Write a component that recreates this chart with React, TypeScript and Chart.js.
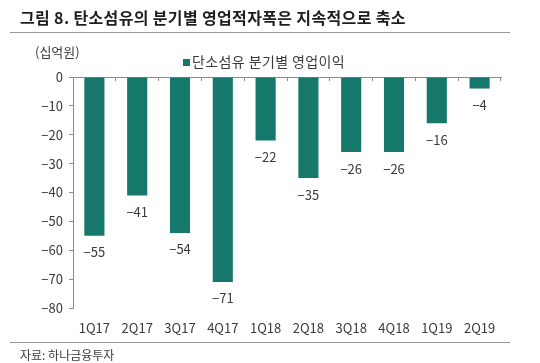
import React, { useEffect, useRef } from "react";
import { Chart, registerables } from "chart.js";

Chart.register(...registerables);

const categories = ["1Q17", "2Q17", "3Q17", "4Q17", "1Q18", "2Q18", "3Q18", "4Q18", "1Q19", "2Q19"];
const operatingProfit = [-55, -41, -54, -71, -22, -35, -26, -26, -16, -4];
const seriesName = "단소섬유 분기별 영업이익";
const titleText = "그림 8. 탄소섬유의 분기별 영업적자폭은 지속적으로 축소";
const unitText = "(십억원)";
const sourceText = "자료: 하나금융투자";

const FONT = "'Noto Sans CJK KR', 'Noto Sans', sans-serif";
const TEAL = "#16786b";
const AXIS = "#8c8c8c";
const TEXT = "#3a3a3a";

const fmt = (v: number) => (v < 0 ? "\u2212" + Math.abs(v) : String(v));

const decorPlugin = {
  id: "decor",
  beforeDraw(chart: any) {
    const ctx = chart.ctx;
    ctx.save();
    ctx.fillStyle = "#ffffff";
    ctx.fillRect(0, 0, chart.width, chart.height);
    // title
    ctx.fillStyle = "#1e1e1e";
    ctx.font = `bold 16px ${FONT}`;
    ctx.textBaseline = "middle";
    ctx.textAlign = "left";
    (ctx as any).letterSpacing = "0.35px";
    ctx.fillText(titleText, 20, 18);
    (ctx as any).letterSpacing = "0px";
    // rules
    ctx.strokeStyle = "#9a9a9a";
    ctx.lineWidth = 1;
    ctx.beginPath();
    ctx.moveTo(10, 32.5);
    ctx.lineTo(510, 32.5);
    ctx.moveTo(10, 342.5);
    ctx.lineTo(510, 342.5);
    ctx.stroke();
    // unit
    ctx.fillStyle = TEXT;
    ctx.font = `13px ${FONT}`;
    ctx.fillText(unitText, 35, 52);
    // legend
    ctx.fillStyle = TEAL;
    ctx.fillRect(183, 59, 7, 7);
    ctx.fillStyle = TEXT;
    ctx.font = `14px ${FONT}`;
    (ctx as any).letterSpacing = "0.4px";
    ctx.fillText(seriesName, 192, 62);
    (ctx as any).letterSpacing = "0px";
    // source
    ctx.font = `12px ${FONT}`;
    ctx.fillText(sourceText, 20, 355);
    ctx.restore();
  },
  afterDatasetsDraw(chart: any) {
    const ctx = chart.ctx;
    const meta = chart.getDatasetMeta(0);
    const data = chart.data.datasets[0].data as number[];
    ctx.save();
    ctx.fillStyle = TEXT;
    ctx.font = `13px ${FONT}`;
    ctx.textAlign = "center";
    ctx.textBaseline = "top";
    meta.data.forEach((bar: any, i: number) => {
      ctx.fillText(fmt(data[i]), bar.x, bar.y + 10);
    });
    ctx.restore();
  },
};

export default function App() {
  const ref = useRef<HTMLCanvasElement | null>(null);
  useEffect(() => {
    if (!ref.current) return;
    const chart = new Chart(ref.current, {
      type: "bar",
      data: {
        labels: categories,
        datasets: [
          {
            label: seriesName,
            data: operatingProfit,
            backgroundColor: TEAL,
            borderWidth: 0,
            barPercentage: 0.47,
            categoryPercentage: 1,
          },
        ],
      },
      options: {
        responsive: false,
        animation: false,
        devicePixelRatio: 1,
        layout: { padding: { left: 0, right: 39, top: 77, bottom: 0 } },
        plugins: { legend: { display: false }, tooltip: { enabled: false }, title: { display: false } },
        scales: {
          x: {
            type: "category",
            position: "bottom",
            offset: true,
            grid: { display: false, drawTicks: false },
            border: { display: false },
            ticks: { color: TEXT, font: { family: FONT, size: 13 }, padding: 12, maxRotation: 0, autoSkip: false },
            afterFit: (s: any) => {
              s.height = 55;
            },
          },
          x2: {
            type: "category",
            position: "top",
            labels: categories,
            offset: true,
            grid: { offset: true, drawOnChartArea: false, drawTicks: true, tickLength: -4, color: AXIS },
            border: { display: true, color: AXIS, width: 1 },
            ticks: { display: false },
            afterFit: (s: any) => {
              s.height = 0;
            },
          },
          y: {
            min: -80,
            max: 0,
            grid: { drawOnChartArea: false, drawTicks: true, tickLength: 4, color: AXIS },
            border: { display: true, color: AXIS, width: 1 },
            ticks: {
              stepSize: 10,
              color: TEXT,
              font: { family: FONT, size: 13 },
              padding: 6,
              callback: (v: any) => fmt(Number(v)),
            },
            afterFit: (s: any) => {
              s.width = 73;
            },
          },
        },
      } as any,
      plugins: [decorPlugin],
    });
    return () => chart.destroy();
  }, []);
  return (
    <div style={{ position: "absolute", left: 0, top: 0, width: 540, height: 363 }}>
      <canvas ref={ref} width={540} height={363} style={{ display: "block" }} />
    </div>
  );
}
